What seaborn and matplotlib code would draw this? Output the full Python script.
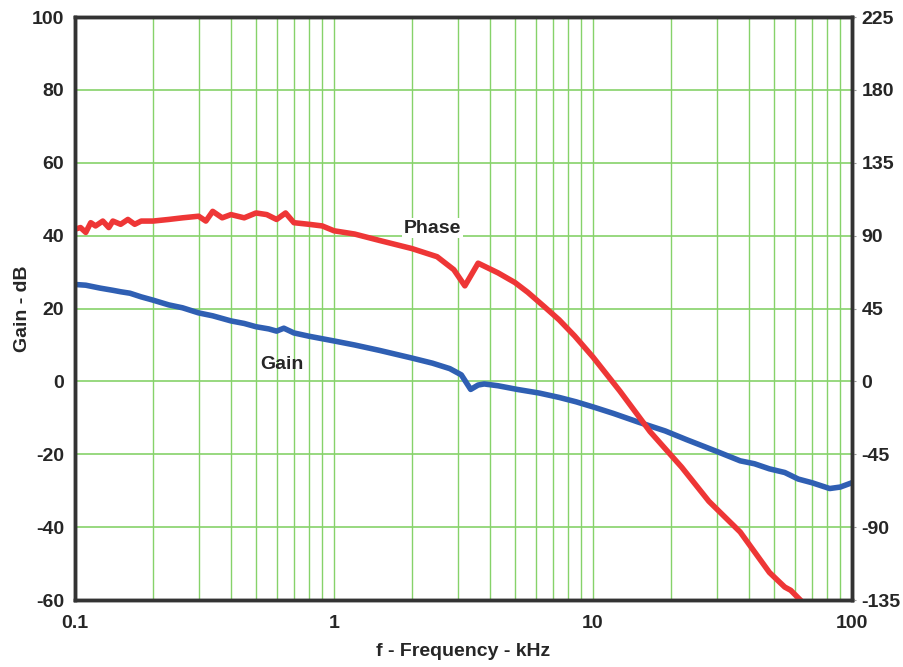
import numpy as np
import pandas as pd
import seaborn as sns
import matplotlib.pyplot as plt
from matplotlib.ticker import FixedLocator, NullFormatter, LogLocator

# Data (kHz, dB, degrees)
freq_gain = [0.1, 0.11, 0.125, 0.14, 0.15, 0.163, 0.18, 0.2, 0.23, 0.26, 0.3, 0.34, 0.4, 0.45,
             0.5, 0.56, 0.6, 0.64, 0.7, 0.8, 1.0, 1.2, 1.5, 2.0, 2.4, 2.8, 3.1, 3.37, 3.6, 3.8, 4.3,
             5.1, 6.2, 7.4, 8.6, 10, 12, 15, 19, 23, 30, 37, 42, 48, 55, 62, 70, 82, 90, 100]
gain = [26.6, 26.4, 25.6, 25.0, 24.6, 24.2, 23.2, 22.3, 21.0, 20.2, 18.8, 18.0, 16.6, 15.9,
        15.0, 14.4, 13.8, 14.6, 13.3, 12.4, 11.1, 10.0, 8.5, 6.4, 5.0, 3.5, 1.8, -2.2, -1.0, -0.7, -1.2,
        -2.2, -3.2, -4.4, -5.6, -7.0, -8.8, -11.2, -13.6, -16.0, -19.2, -21.8, -22.6, -24.0, -25.0,
        -26.8, -27.8, -29.4, -29.0, -27.8]

freq_phase = [0.1, 0.105, 0.11, 0.115, 0.12, 0.128, 0.135, 0.14, 0.15, 0.16, 0.17, 0.18, 0.2,
              0.23, 0.26, 0.3, 0.32, 0.34, 0.37, 0.4, 0.45, 0.5, 0.55, 0.6, 0.65, 0.7, 0.8,
              0.9, 1.0, 1.2, 1.5, 2.0, 2.5, 2.9, 3.2, 3.6, 4.3, 5.0, 5.6, 6.5, 7.4, 8.5, 10,
              12.7, 16.6, 22, 28, 37, 48, 55, 58, 65]
phase = [94, 95, 92, 98, 96, 99, 95, 99, 97, 100, 97, 99, 99,
         100, 101, 102, 99, 105, 101, 103, 101, 104, 103, 100, 104, 98, 97,
         96, 93, 91, 87, 82, 77, 69, 59, 73, 67, 61, 55, 46, 38, 28, 15,
         -6, -31, -53, -74, -93, -118, -127, -129, -137]

gain_ticks = [-60, -40, -20, 0, 20, 40, 60, 80, 100]
phase_ticks = [-135, -90, -45, 0, 45, 90, 135, 180, 225]
x_ticks = [0.1, 1, 10, 100]
x_labels = ["0.1", "1", "10", "100"]

sns.set_style("white")
plt.rcParams['font.family'] = ['Liberation Sans', 'DejaVu Sans']
plt.rcParams['font.weight'] = 'bold'
plt.rcParams['axes.unicode_minus'] = False

fig = plt.figure(figsize=(9.04, 6.67), dpi=100)
ax = fig.add_axes([0.083, 0.1004, 0.8595, 0.8741])
ax2 = ax.twinx()

green = '#86d26a'
ax.set_xscale('log')
ax.set_xlim(0.1, 100)
ax.set_ylim(-60, 100)
ax2.set_ylim(-135, 225)

ax.xaxis.set_major_locator(FixedLocator(x_ticks))
ax.xaxis.set_minor_locator(LogLocator(base=10, subs=np.arange(2, 10)))
ax.xaxis.set_minor_formatter(NullFormatter())
ax.set_xticklabels(x_labels)
ax.set_yticks(gain_ticks)
ax2.set_yticks(phase_ticks)

ax.grid(True, which='both', axis='x', color=green, lw=1)
ax.grid(True, which='major', axis='y', color=green, lw=1.2)
ax.set_axisbelow(True)

df_g = pd.DataFrame({'f': freq_gain, 'v': gain})
df_p = pd.DataFrame({'f': freq_phase, 'v': phase})
sns.lineplot(data=df_g, x='f', y='v', ax=ax, color='#2f5fb3', lw=4, solid_capstyle='round')
sns.lineplot(data=df_p, x='f', y='v', ax=ax2, color='#ee3636', lw=4, solid_capstyle='round',
             clip_on=True)

ax.set_xlabel('f - Frequency - kHz', fontsize=14, fontweight='bold', va='center')
ax.set_ylabel('Gain - dB', fontsize=14, fontweight='bold', va='center')
ax.xaxis.set_label_coords(0.5, -0.089)
ax.yaxis.set_label_coords(-0.068, 0.5)
ax2.set_ylabel('')

for a in (ax, ax2):
    a.tick_params(axis='both', which='both', length=0, labelsize=14, pad=8)
    for s in a.spines.values():
        s.set_linewidth(2.5)
        s.set_color('#333333')
ax.tick_params(axis='x', pad=11)
ax2.tick_params(axis='y', length=3, color='#999999', pad=4, labelsize=14)

ax.text(0.63, 4.7, 'Gain', fontsize=14, fontweight='bold', ha='center', va='center')
ax.text(2.4, 42, 'Phase', fontsize=14, fontweight='bold', ha='center', va='center',
        bbox=dict(facecolor='white', edgecolor='none', pad=1))

fig.savefig('out.png', dpi=100)
